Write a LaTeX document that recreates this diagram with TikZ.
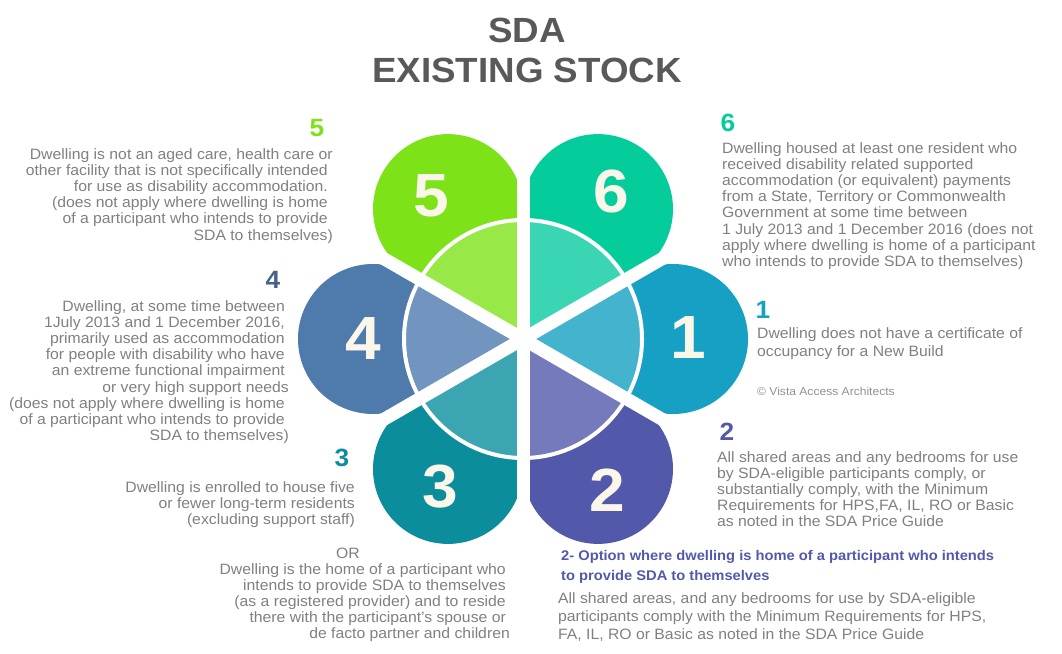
\documentclass[tikz,border=0pt]{standalone}
\usepackage{fontspec}
\setmainfont{Liberation Sans}[FakeStretch=1.05]
\usetikzlibrary{calc}
\definecolor{p1}{RGB}{22,160,196}
\definecolor{p2}{RGB}{82,89,171}
\definecolor{p3}{RGB}{11,141,155}
\definecolor{p4}{RGB}{78,123,172}
\definecolor{p5}{RGB}{125,226,23}
\definecolor{p6}{RGB}{4,204,155}
\definecolor{l1}{RGB}{67,179,206}
\definecolor{l2}{RGB}{116,122,188}
\definecolor{l3}{RGB}{59,166,178}
\definecolor{l4}{RGB}{113,149,190}
\definecolor{l5}{RGB}{152,233,72}
\definecolor{l6}{RGB}{58,214,180}
\definecolor{num4}{RGB}{70,98,138}
\definecolor{txt}{RGB}{128,128,128}
\definecolor{copy}{RGB}{145,145,145}
\definecolor{title}{RGB}{89,89,89}
\definecolor{cream}{RGB}{250,246,234}
\begin{document}
\begin{tikzpicture}[x=1pt,y=1pt,
  body/.style={font=\fontsize{15}{16.2}\selectfont, text=txt, inner sep=0pt},
  lab/.style={font=\fontsize{25}{25}\selectfont\bfseries, inner sep=0pt},
  big/.style={font=\fontsize{61}{61}\selectfont\bfseries, text=cream, inner sep=0pt},
  ttl/.style={font=\fontsize{35}{40}\selectfont\bfseries, text=title, inner sep=0pt}]
\useasboundingbox (0,0) rectangle (1062,-653);
\coordinate (O) at (523,-339);
% petals
\foreach \a/\c in {0/p1,-60/p2,-120/p3,180/p4,120/p5,60/p6}{
  \fill[\c] (O) -- ++({\a-30}:129.9) arc[start angle={\a-120}, end angle={\a+120}, radius=75] -- cycle;
}
% inner sectors
\foreach \a/\c in {0/l1,-60/l2,-120/l3,180/l4,120/l5,60/l6}{
  \fill[\c] (O) -- ++({\a-30}:120) arc[start angle={\a-30}, end angle={\a+30}, radius=120] -- cycle;
}
\draw[white, line width=4pt] (O) circle[radius=119];
\foreach \b in {30,90,...,330}{
  \draw[white, line width=13pt] (O) -- ++(\b:175);
}
% big numbers
\node[big] (b1) at (688,-338) {1};
\node[big] (b2) at (607,-490) {2};
\node[big] (b3) at (440,-487) {3};
\node[big] (b4) at (363,-339) {4};
\node[big] (b5) at (431,-196) {5};
\node[big] (b6) at (611,-191) {6};
% title
\node[ttl, align=center] (title) at (527,-50) {SDA\\EXISTING STOCK};
% labels
\node[lab, text=p5] (k5) at (317,-128) {5};
\node[lab, text=num4] (k4) at (273,-280) {4};
\node[lab, text=p6] (k6) at (728,-123) {6};
\node[lab, text=p1] (k1) at (763,-310) {1};
\node[lab, text=p2] (k2) at (727,-432) {2};
\node[lab, text=p3] (k3) at (342,-458) {3};
% texts
\node[body, align=right, anchor=north east] (t5) at (333,-148) {Dwelling is not an aged care, health care or\\
other facility that is not specifically intended\kern5pt\\
for use as disability accommodation.\kern5pt\\
(does not apply where dwelling is home\kern5pt\\
of a participant who intends to provide\kern5pt\\
SDA to themselves)};
\node[body, align=right, anchor=north east] (t4) at (289,-300) {Dwelling, at some time between\kern4pt\\
1July 2013 and 1 December 2016,\kern4pt\\
primarily used as accommodation\kern4pt\\
for people with disability who have\kern4pt\\
an extreme functional impairment\kern4pt\\
or very high support needs\\
(does not apply where dwelling is home\kern4pt\\
of a participant who intends to provide\kern4pt\\
SDA to themselves)};
\node[body, align=left, anchor=north west] (t6) at (722,-142) {Dwelling housed at least one resident who\\
received disability related supported\\
accommodation (or equivalent) payments\\
from a State, Territory or Commonwealth\\
Government at some time between\\
1 July 2013 and 1 December 2016 (does not\\
apply where dwelling is home of a participant\\
who intends to provide SDA to themselves)};
\node[body, font=\fontsize{15}{18}\selectfont, align=left, anchor=north west] (t1) at (757,-327) {Dwelling does not have a certificate of\\
occupancy for a New Build};
\node[inner sep=0pt, anchor=west, text=copy, font=\fontsize{11.5}{12}\selectfont] (cr) at (757,-391) {© Vista Access Architects};
\node[body, align=left, anchor=north west] (t2) at (717,-451) {All shared areas and any bedrooms for use\\
by SDA-eligible participants comply, or\\
substantially comply, with the Minimum\\
Requirements for HPS,FA, IL, RO or Basic\\
as noted in the SDA Price Guide};
\node[inner sep=0pt, align=left, anchor=north west, text=p2, font=\fontsize{14}{20}\selectfont\bfseries] (oh) at (561,-550) {2- Option where dwelling is home of a participant who intends\\
to provide SDA to themselves};
\node[body, font=\fontsize{15}{18}\selectfont, align=left, anchor=north west] (ot) at (558,-592) {All shared areas, and any bedrooms for use by SDA-eligible\\
participants comply with the Minimum Requirements for HPS,\\
FA, IL, RO or Basic as noted in the SDA Price Guide};
\node[body, align=right, anchor=north east] (t3a) at (355,-481) {Dwelling is enrolled to house five\\
or fewer long-term residents\\
(excluding support staff)};
\node[body] (or) at (348,-553) {OR};
\node[body, align=right, anchor=north east] (t3b) at (510,-563) {Dwelling is the home of a participant who\kern4pt\\
intends to provide SDA to themselves\kern4pt\\
(as a registered provider) and to reside\kern4pt\\
there with the participant’s spouse or\kern4pt\\
de facto partner and children};
\end{tikzpicture}
\end{document}
